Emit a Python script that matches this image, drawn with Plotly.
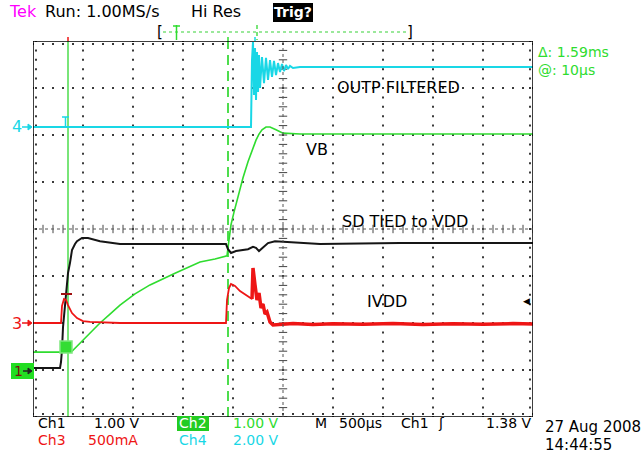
import numpy as np
import plotly.graph_objects as go

# ---------------- scope settings ----------------
MS_PER_DIV = 0.5          # M 500us
N_XDIV, N_YDIV = 10, 8
ch_scale = {"ch1": 1.0, "ch2": 1.0, "ch3": 500.0, "ch4": 2.0}   # V/div, V/div, mA/div, V/div
ch_pos = {"ch1": -3.0, "ch2": -3.0, "ch3": -2.0, "ch4": 2.17}    # ground marker in divisions

# ---------------- waveform data (t in ms from left edge of screen) ----------------
# Ch1 (black) SD TIED to VDD  [V]
ch1_t = [0, 0.27, 0.28, 0.29, 0.30, 0.32, 0.33, 0.34, 0.35, 0.37, 0.39, 0.42, 0.44, 0.49, 0.55, 0.67,
         0.87, 1.27, 1.93, 1.95, 1.98, 2.03, 2.09, 2.15, 2.20, 2.23, 2.26, 2.30, 2.35, 2.42, 2.57, 2.87,
         3.67, 5.00]
ch1_v = [0.04, 0.04, 0.17, 0.43, 0.91, 1.34, 1.64, 1.85, 2.06, 2.28, 2.55, 2.68, 2.74, 2.81, 2.81, 2.74,
         2.68, 2.68, 2.68, 2.57, 2.49, 2.53, 2.55, 2.57, 2.62, 2.60, 2.53, 2.60, 2.70, 2.74, 2.72, 2.68,
         2.70, 2.70]

# Ch2 (green) VB  [V]
ch2_t = [0, 0.29, 0.39, 0.47, 0.57, 0.67, 0.77, 0.87, 1.02, 1.17, 1.42, 1.67, 1.82, 1.94, 1.96, 1.98,
         2.01, 2.05, 2.10, 2.15, 2.20, 2.23, 2.26, 2.29, 2.33, 2.37, 2.43, 2.50, 2.67, 5.00]
ch2_v = [0.38, 0.38, 0.40, 0.57, 0.79, 1.00, 1.19, 1.38, 1.62, 1.81, 2.06, 2.30, 2.36, 2.43, 2.77, 3.09,
         3.36, 3.70, 4.09, 4.43, 4.72, 4.89, 5.02, 5.11, 5.17, 5.17, 5.11, 5.04, 5.02, 5.02]

# Ch3 (red) IVDD  [mA]
ch3_t = [0, 0.28, 0.29, 0.31, 0.33, 0.35, 0.39, 0.44, 0.50, 0.57, 0.87, 1.93, 1.94, 1.96, 1.98, 2.02,
         2.07, 2.13, 2.19, 2.20, 2.22, 2.24, 2.26, 2.28, 2.30, 2.32, 2.34, 2.37, 2.40, 2.60, 2.80, 3.00,
         3.30, 3.60, 3.90, 4.20, 4.50, 4.80, 5.00]
ch3_i = [0, 0, 181, 255, 245, 191, 106, 53, 21, 11, 0, 0, 245, 372, 415, 394,
         340, 298, 255, 585, 404, 245, 319, 160, 202, 96, 117, 11, -21, -5, -16, -8,
         -14, -6, -15, -8, -13, -6, -11]

# Ch4 (cyan) OUTP FILTERED  [V]
ch4_t = [0, 2.18, 2.19, 2.20, 2.21, 2.22, 2.23, 2.24, 2.25, 2.26, 2.27, 2.29, 2.31, 2.33, 2.35, 2.37,
         2.39, 2.41, 2.43, 2.45, 2.47, 2.49, 2.51, 2.53, 2.55, 2.57, 2.60, 2.67, 5.00]
ch4_v = [0, 0, 2.85, 3.62, 1.36, 3.36, 1.15, 3.19, 1.49, 3.06, 1.66, 2.98, 1.87, 2.94, 2.00, 2.85,
         2.13, 2.81, 2.21, 2.72, 2.34, 2.68, 2.38, 2.64, 2.47, 2.60, 2.51, 2.55, 2.55]

# cursors / trigger
cursor_a_ms = 0.35
cursor_b_ms = 1.95
trig_level_v = 1.38

# ---------------- figure geometry ----------------
W, H = 644, 455
L, R, T, B = 33, 533, 41, 417
XMAX = MS_PER_DIV * N_XDIV


def px(x):
    return (x - L) / (R - L)


def py(y):
    return (B - y) / (B - T)


def to_div(vals, ch):
    return [v / ch_scale[ch] + ch_pos[ch] for v in vals]


CYAN = "#19d7e6"
GREEN = "#2fdc2f"
RED = "#ee1515"
BLACK = "#151515"
CUR = "#4ddd4d"
FONT = "DejaVu Sans"

fig = go.Figure()

# ---------------- graticule ----------------
ms_step = MS_PER_DIV / 5
gx, gy = [], []
for d in range(1, N_XDIV):
    if d == N_XDIV // 2:
        continue
    ys = np.arange(-4, 4.001, 0.2)
    gx += [d * MS_PER_DIV] * len(ys)
    gy += list(ys)
for d in range(-3, 4):
    if d == 0:
        continue
    xs = np.arange(0, XMAX + 1e-6, ms_step)
    gx += list(xs)
    gy += [d] * len(xs)
# border inner dots
xs = np.arange(0, XMAX + 1e-6, ms_step)
ys = np.arange(-4, 4.001, 0.2)
gx += list(xs) + list(xs) + [0.03] * len(ys) + [XMAX - 0.03] * len(ys)
gy += [4 - 0.065] * len(xs) + [-4 + 0.065] * len(xs) + list(ys) + list(ys)
fig.add_trace(go.Scatter(x=gx, y=gy, mode="markers", hoverinfo="skip",
                         marker=dict(symbol="square", size=2, color="#3a3a3a", line=dict(width=0))))
# center ticks
xs = np.arange(0, XMAX + 1e-6, ms_step)
fig.add_trace(go.Scatter(x=xs, y=[0] * len(xs), mode="markers", hoverinfo="skip",
                         marker=dict(symbol="line-ns", size=6, line=dict(width=1, color="#444"))))
ys = np.arange(-4, 4.001, 0.2)
fig.add_trace(go.Scatter(x=[XMAX / 2] * len(ys), y=ys, mode="markers", hoverinfo="skip",
                         marker=dict(symbol="line-ew", size=6, line=dict(width=1, color="#444"))))

# ---------------- cursors ----------------
fig.add_trace(go.Scatter(x=[cursor_a_ms, cursor_a_ms], y=[-4, 4], mode="lines", hoverinfo="skip",
                         line=dict(color=CUR, width=1.5)))
fig.add_trace(go.Scatter(x=[cursor_b_ms, cursor_b_ms], y=[-4, 4], mode="lines", hoverinfo="skip",
                         line=dict(color=CUR, width=2, dash="10px,6px")))

# ---------------- waveforms ----------------
fig.add_trace(go.Scatter(x=ch4_t, y=to_div(ch4_v, "ch4"), mode="lines",
                         line=dict(color=CYAN, width=2), name="Ch4"))
fig.add_trace(go.Scatter(x=ch2_t, y=to_div(ch2_v, "ch2"), mode="lines",
                         line=dict(color=GREEN, width=1.6), name="Ch2"))
fig.add_trace(go.Scatter(x=ch1_t, y=to_div(ch1_v, "ch1"), mode="lines",
                         line=dict(color=BLACK, width=2), name="Ch1"))
fig.add_trace(go.Scatter(x=ch3_t, y=to_div(ch3_i, "ch3"), mode="lines",
                         line=dict(color=RED, width=1.8), name="Ch3"))
tail = [i for i, t in enumerate(ch3_t) if t >= 2.19]
fig.add_trace(go.Scatter(x=[ch3_t[i] for i in tail], y=to_div([ch3_i[i] for i in tail], "ch3"),
                         mode="lines", line=dict(color=RED, width=3.5), hoverinfo="skip"))

shapes = []
# border
shapes.append(dict(type="rect", xref="x", yref="y", x0=0, x1=XMAX, y0=-4, y1=4,
                   line=dict(color="black", width=1.5)))
# center lines
shapes.append(dict(type="line", xref="x", yref="y", x0=0, x1=XMAX, y0=0, y1=0,
                   line=dict(color="#555", width=1, dash="dot")))
shapes.append(dict(type="line", xref="x", yref="y", x0=XMAX / 2, x1=XMAX / 2, y0=-4, y1=4,
                   line=dict(color="#555", width=1, dash="dot")))
# red marker near trigger
shapes.append(dict(type="line", xref="paper", yref="paper", x0=px(61), x1=px(72), y0=py(294), y1=py(294),
                   line=dict(color="#a01010", width=2)))
# green trigger box on ch2
shapes.append(dict(type="rect", xref="paper", yref="paper", x0=px(60), x1=px(72), y0=py(353), y1=py(341),
                   fillcolor="#33dd33", line=dict(color="#7fe87f", width=1.5)))
# cyan T marker
shapes.append(dict(type="line", xref="paper", yref="paper", x0=px(62), x1=px(69), y0=py(117), y1=py(117),
                   line=dict(color=CYAN, width=1.5)))
shapes.append(dict(type="line", xref="paper", yref="paper", x0=px(65.5), x1=px(65.5), y0=py(117), y1=py(128),
                   line=dict(color=CYAN, width=1.5)))
# top record bracket
shapes.append(dict(type="line", xref="paper", yref="paper", x0=px(163), x1=px(408), y0=py(32), y1=py(32),
                   line=dict(color="#9be89b", width=2, dash="dot")))
shapes.append(dict(type="line", xref="paper", yref="paper", x0=px(176.5), x1=px(176.5), y0=py(25), y1=py(40),
                   line=dict(color=GREEN, width=1.5)))
shapes.append(dict(type="line", xref="paper", yref="paper", x0=px(173), x1=px(180), y0=py(26), y1=py(26),
                   line=dict(color=GREEN, width=1.5)))
shapes.append(dict(type="line", xref="paper", yref="paper", x0=px(257), x1=px(257), y0=py(25), y1=py(40),
                   line=dict(color=CUR, width=1.5, dash="4px,3px")))
# marks on top border
for xm, cm in [(68, RED), (228, GREEN), (255, CYAN)]:
    shapes.append(dict(type="line", xref="paper", yref="paper", x0=px(xm), x1=px(xm), y0=py(37), y1=py(41),
                       line=dict(color=cm, width=1.5)))
# left channel arrows
for yy, cc in [(127, CYAN), (323, RED)]:
    shapes.append(dict(type="line", xref="paper", yref="paper", x0=px(22), x1=px(30), y0=py(yy), y1=py(yy),
                       line=dict(color=cc, width=1.5)))
    shapes.append(dict(type="path", xref="paper", yref="paper",
                       path=f"M {px(28)},{py(yy-3)} L {px(32)},{py(yy)} L {px(28)},{py(yy+3)} Z",
                       fillcolor=cc, line=dict(color=cc, width=1)))
# green box with ch1 marker
shapes.append(dict(type="rect", xref="paper", yref="paper", x0=px(11), x1=px(34), y0=py(379), y1=py(363),
                   fillcolor="#22dd22", line=dict(width=0)))
shapes.append(dict(type="line", xref="paper", yref="paper", x0=px(23), x1=px(29), y0=py(371), y1=py(371),
                   line=dict(color="#222", width=1.5)))
shapes.append(dict(type="path", xref="paper", yref="paper",
                   path=f"M {px(28)},{py(368)} L {px(32)},{py(371)} L {px(28)},{py(374)} Z",
                   fillcolor="#222", line=dict(color="#222", width=1)))
# Trig? box, Ch2 box
shapes.append(dict(type="rect", xref="paper", yref="paper", x0=px(273), x1=px(313), y0=py(22), y1=py(3),
                   fillcolor="black", line=dict(width=0)))
shapes.append(dict(type="rect", xref="paper", yref="paper", x0=px(177), x1=px(209), y0=py(431), y1=py(416),
                   fillcolor="#22cc22", line=dict(width=0)))

ann = []


def text(x, y, s, color="black", size=16, anchor="left", fam=FONT):
    ann.append(dict(x=px(x), y=py(y), xref="paper", yref="paper", text=s, showarrow=False,
                    xanchor=anchor, yanchor="middle", borderpad=0,
                    font=dict(family=fam, size=size, color=color)))


text(8, 12, "Tek", "#ff00ff")
text(44, 12, "Run: 1.00MS/s")
text(190, 12, "Hi Res")
text(293, 12, "<b>Trig?</b>", "white", 14, "center")
text(156, 32, "[", size=15)
text(406, 32, "]", size=15)
text(537, 52, "Δ: 1.59ms", GREEN, 14)
text(537, 70, "@: 10µs", GREEN, 14)
text(336, 87, "OUTP FILTERED")
text(305, 149, "VB")
text(341, 221, "SD TIED to VDD")
text(366, 301, "IVDD")
text(526, 301, "◀", size=9, anchor="center")
text(11, 127, "4", CYAN)
text(11, 323, "3", RED)
text(13, 371, "1", "#7a1010", 14)
# bottom readout
R1, R2, FS = 423, 440, 14
text(37, R1, "Ch1", size=FS)
text(93, R1, "1.00 V", size=FS)
text(193, R1, "Ch2", "white", FS, "center")
text(232, R1, "1.00 V", GREEN, FS)
text(314, R1, "M", size=FS)
text(338, R1, "500µs", size=FS)
text(400, R1, "Ch1", size=FS)
text(437, R1, "ʃ", size=FS)
text(485, R1, "1.38 V", size=FS)
text(37, R2, "Ch3", RED, FS)
text(87, R2, "500mA", RED, FS)
text(178, R2, "Ch4", CYAN, FS)
text(232, R2, "2.00 V", CYAN, FS)
text(544, 427, "27 Aug 2008", size=15)
text(544, 445, "14:44:55", size=15)

fig.update_layout(
    width=W, height=H,
    margin=dict(l=L, r=W - R, t=T, b=H - B, pad=0),
    paper_bgcolor="white", plot_bgcolor="white",
    showlegend=False,
    xaxis=dict(range=[0, XMAX], visible=False, fixedrange=True),
    yaxis=dict(range=[-4, 4], visible=False, fixedrange=True),
    shapes=shapes, annotations=ann,
)

fig.write_html("out.html", config={"displayModeBar": False},
               post_script="document.body.style.margin='0px';")
